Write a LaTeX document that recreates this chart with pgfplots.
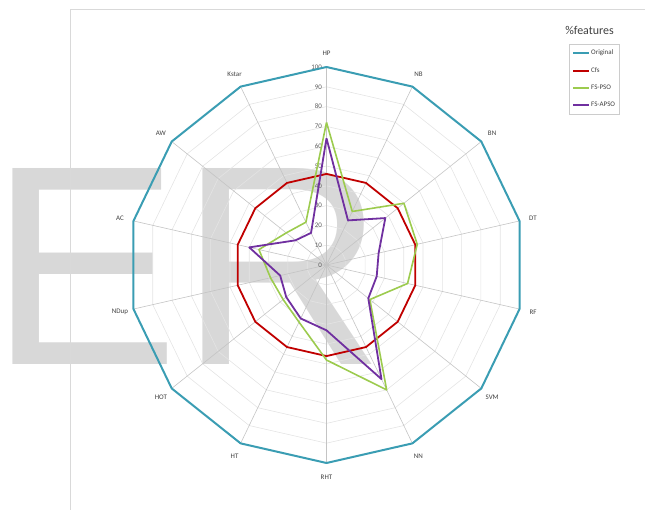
\documentclass[border=0pt]{standalone}
\usepackage{pgfplots}
\pgfplotsset{compat=1.18}
\usepackage{pgfplotstable}
\usepgfplotslibrary{polar}
\usepackage{fontspec}
\setmainfont{Carlito}
\newfontfamily\wmfont{Liberation Sans}

\definecolor{origc}{HTML}{3A9DB3}
\definecolor{cfsc}{HTML}{C00000}
\definecolor{psoc}{HTML}{9CCB4E}
\definecolor{apsoc}{HTML}{7030A0}
\definecolor{ringc}{HTML}{E4E4E4}
\definecolor{spokec}{HTML}{C4C4C4}
\definecolor{labc}{HTML}{404040}
\definecolor{wmc}{HTML}{D8D8D8}

% share of features kept per classifier (k = spoke index, clockwise from top)
\pgfplotstableread{
k  name  orig cfs pso apso
0  HP    100  46  72  64
1  NB    100  46  30  25
2  BN    100  46  50  38
3  DT    100  46  47  27
4  RF    100  46  42  26
5  SVM   100  46  28  27
6  NN    100  46  70  64
7  RHT   100  46  48  33
8  HT    100  46  32  30
9  HOT   100  46  28  26
10 NDup  100  46  29  24
11 AC    100  46  35  40
12 AW    100  46  26  20
13 Kstar 100  46  24  18
14 HP    100  46  72  64
}\features

\newcommand\catlabel[2]{%
  \node[font=\fontsize{7}{8}\selectfont, text=labc]
    at (axis cs:{107*cos(90-#1*360/14)},{107*sin(90-#1*360/14)}) {#2};}

\begin{document}
\begin{tikzpicture}
\clip (0,0) rectangle (645bp,510bp);
% background watermark
\node[anchor=base west, inner sep=0pt, text=wmc,
      font=\wmfont\fontsize{286}{286}\selectfont] at (-10.6bp,145bp) {ER};
% chart frame
\draw[gray!30, line width=1bp] (70bp,-5bp) rectangle (650bp,500bp);
\begin{axis}[
  at={(0,0)}, anchor=south west,
  scale only axis, x=1.98bp, y=1.98bp,
  xmin=-164.9, xmax=160.86, ymin=-123.74, ymax=133.84,
  hide axis, clip=false,
  legend style={at={(0.882,0.914)}, anchor=north west,
    draw=gray!40, line width=0.6bp, fill=white,
    font=\fontsize{7}{8}\selectfont, text=labc,
    inner xsep=3bp, inner ysep=5bp, row sep=9bp,
    nodes={inner sep=1bp}},
  legend cell align=left,
  legend image code/.code={\draw[#1] (0bp,0bp) -- (16bp,0bp);},
]
% concentric grid polygons
\pgfplotsinvokeforeach{10,20,...,90}{
  \addplot[ringc, line width=0.6bp, data cs=polar, forget plot]
    table[x expr={90-\thisrow{k}*360/14}, y expr=#1] {\features};
}
% spokes
\pgfplotsinvokeforeach{0,...,13}{
  \draw[spokec, line width=0.6bp] (axis cs:0,0) --
    (axis cs:{100*cos(90-#1*360/14)},{100*sin(90-#1*360/14)});
}
% radial scale
\pgfplotsinvokeforeach{0,10,...,100}{
  \node[anchor=east, inner sep=0pt, font=\fontsize{7}{8}\selectfont, text=labc!85]
    at (axis cs:-2.2,#1) {#1};
}
% category names
\catlabel{0}{HP}\catlabel{1}{NB}\catlabel{2}{BN}\catlabel{3}{DT}
\catlabel{4}{RF}\catlabel{5}{SVM}\catlabel{6}{NN}\catlabel{7}{RHT}
\catlabel{8}{HT}\catlabel{9}{HOT}\catlabel{10}{NDup}\catlabel{11}{AC}
\catlabel{12}{AW}\catlabel{13}{Kstar}

\addplot[origc, line width=2bp, line join=round, data cs=polar]
  table[x expr={90-\thisrow{k}*360/14}, y=orig] {\features};
\addlegendentry{Original}
\addplot[cfsc, line width=1.8bp, line join=round, data cs=polar]
  table[x expr={90-\thisrow{k}*360/14}, y=cfs] {\features};
\addlegendentry{Cfs}
\addplot[psoc, line width=1.6bp, line join=round, data cs=polar]
  table[x expr={90-\thisrow{k}*360/14}, y=pso] {\features};
\addlegendentry{FS-PSO}
\addplot[apsoc, line width=1.8bp, line join=round, data cs=polar]
  table[x expr={90-\thisrow{k}*360/14}, y=apso] {\features};
\addlegendentry{FS-APSO}

\node[font=\fontsize{12}{14}\selectfont, text=labc] at (axis description cs:0.914,0.941) {\%features};
\end{axis}
\end{tikzpicture}
\end{document}
